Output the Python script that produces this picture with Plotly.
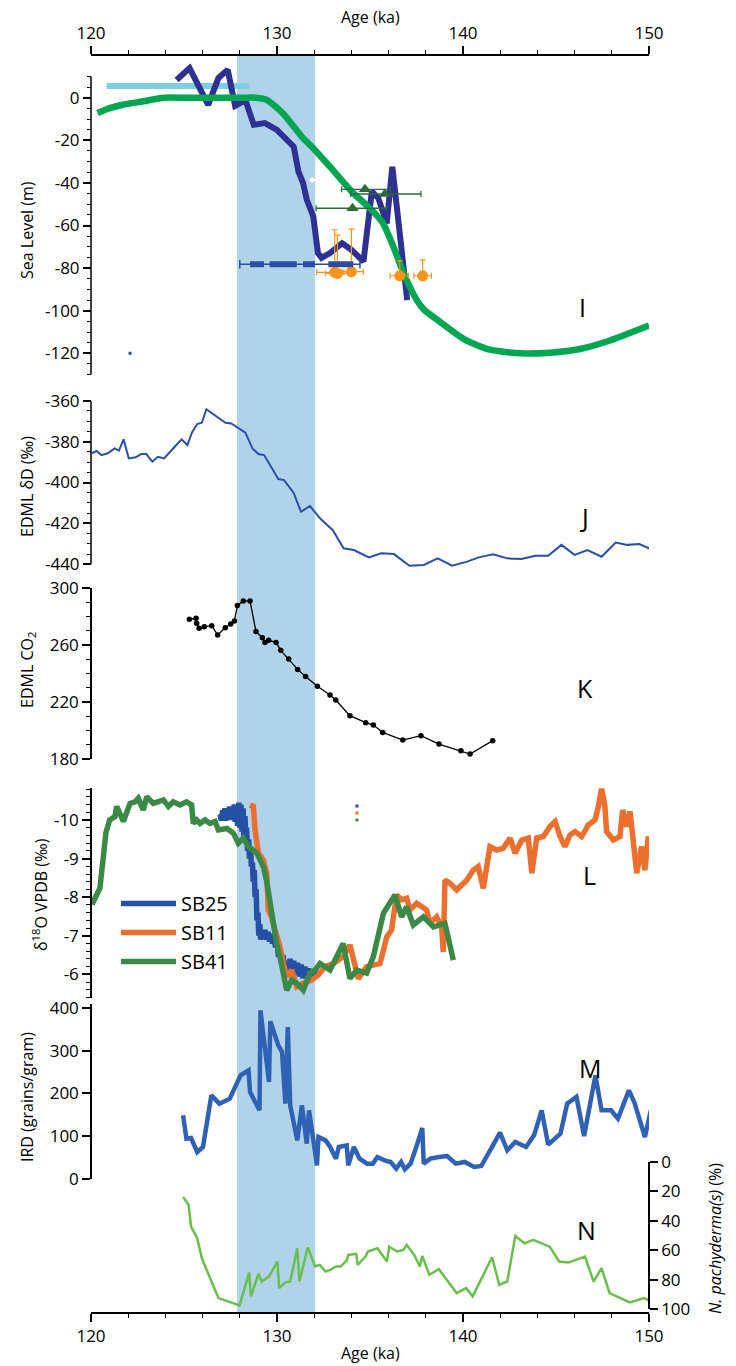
import plotly.graph_objects as go

# ---------------- Panel I : sea level (m) ----------------
sl_green_age = [120.35, 121.0, 121.7, 122.8, 123.9, 125.0, 126.0, 127.0, 128.0, 128.9, 129.45,
                130.3, 131.4, 131.95, 133.0, 134.1, 135.0, 135.7, 136.25, 136.8, 137.5, 137.9,
                138.76, 140.1, 141.45, 143.1, 144.7, 146.3, 147.9, 150.0]
sl_green_val = [-7.2, -4.9, -3.3, -1.7, 0, 0, 0, 0, 0, 0, -1.0,
                -7.2, -19, -23.7, -33.9, -44.8, -51.9, -58.9, -69.8, -82.3, -94.8, -99.5,
                -105.2, -113.6, -118.3, -120, -119.7, -118, -114, -107]

sl_blue_age = [124.6, 125.3, 126.3, 126.85, 127.35, 127.75, 128.3, 128.75, 129.35, 129.98, 130.9,
               131.15, 131.4, 131.6, 131.95, 132.2, 132.4, 132.85, 133.5, 134.0, 134.65, 135.1,
               135.45, 135.9, 136.2, 136.6, 137.0]
sl_blue_val = [8.3, 13.9, -3.4, 9.2, 13.1, -3.8, -1.1, -12.7, -11.9, -15, -23,
               -34.6, -40, -47.9, -55.7, -72.9, -75.2, -72.9, -68.3, -71.4, -76.9, -44,
               -47.2, -59, -32.4, -63.7, -95]

hs_age = [120.84, 128.5]          # highstand bar
hs_val = [5.5, 5.5]

tri_age = [134.73, 135.8, 134.06]
tri_val = [-43.0, -45.2, -51.9]
tri_lo = [133.47, 133.96, 132.1]
tri_hi = [136.1, 137.74, 135.9]

or_age = [133.1, 133.25, 134.0, 136.6, 137.83]
or_val = [-82.0, -82.5, -81.7, -83.6, -83.6]
or_up = [20, 18, 20, 7, 7.5]
or_xlo = [132.13, 132.6, 133.5, 136.08, 137.36]
or_xhi = [133.6, 134.0, 134.64, 137.06, 138.3]

dat_val = -78.2
dat_range = [128.0, 134.46]
dat_seg_lo = [128.55, 129.6, 131.4, 132.76]
dat_seg_hi = [129.3, 131.06, 132.04, 134.1]

white_pt_age = [131.9]
white_pt_val = [-38.6]
blue_dot_age = [122.1]
blue_dot_val = [-120.0]

# ---------------- Panel J : EDML dD ----------------
dd_age = [120.05, 120.3, 120.56, 120.9, 121.27, 121.5, 121.75, 122.03, 122.4, 122.7, 122.97,
          123.3, 123.6, 123.93, 124.5, 124.87, 125.18, 125.43, 125.71, 125.96, 126.2, 126.65,
          127.23, 127.54, 127.92, 128.3, 128.68, 129.0, 129.31, 129.69, 130.07, 130.38, 130.89,
          131.29, 131.77, 132.36, 132.99, 133.58, 134.13, 134.94, 135.6, 136.29, 137.12, 137.89,
          138.64, 139.41, 140.22, 140.85, 141.61, 142.38, 143.13, 143.9, 144.58, 145.29, 146.0,
          146.69, 147.45, 148.21, 148.84, 149.48, 150.06]
dd_val = [-385.7, -384.6, -386.6, -385.7, -383.3, -384.4, -378.9, -388.2, -387.7, -386.1, -386.1,
          -389.8, -387.4, -388.2, -382.5, -378.9, -381.7, -375.5, -371.4, -370.8, -364.2, -367.0,
          -370.8, -371.1, -373.5, -375.6, -383.3, -386.1, -386.6, -392.6, -398.3, -398.8, -405.0,
          -414.3, -411.5, -418.0, -423.2, -432.2, -433.0, -436.6, -434.6, -435.0, -440.7, -440.3,
          -437.1, -440.7, -438.7, -436.6, -435.1, -437.1, -437.4, -435.8, -435.8, -430.5, -435.4,
          -433.0, -436.3, -429.4, -430.5, -430.1, -432.5]

# ---------------- Panel K : EDML CO2 ----------------
co2_age = [125.29, 125.65, 125.68, 125.81, 126.09, 126.49, 126.81, 127.22, 127.51, 127.71, 127.87,
           128.19, 128.55, 128.87, 129.21, 129.35, 129.55, 129.95, 130.2, 130.63, 131.11, 131.54,
           132.17, 132.85, 133.16, 133.92, 134.77, 135.18, 135.68, 136.76, 137.74, 138.71, 139.89,
           140.38, 141.6]
co2_val = [278.2, 278.9, 275.3, 271.8, 273.0, 273.7, 267.1, 272.3, 274.9, 277.0, 287.8,
           291.1, 291.1, 269.5, 265.2, 261.9, 263.4, 261.9, 256.3, 250.2, 242.9, 237.8,
           231.0, 224.8, 221.3, 210.3, 205.4, 203.7, 198.5, 193.1, 196.2, 190.3, 185.6,
           183.3, 192.7]

# ---------------- Panel L : speleothem d18O ----------------
sb25_age = [126.95, 127.0, 127.08, 127.12, 127.2, 127.25, 127.32, 127.38, 127.45, 127.5, 127.58,
            127.62, 127.7, 127.75, 127.82, 127.88, 127.95, 128.0, 128.06, 128.12, 128.18, 128.22,
            128.28, 128.32, 128.36, 128.42, 128.48, 128.52, 128.58, 128.62, 128.68, 128.72, 128.78,
            128.82, 128.88, 128.92, 128.98, 129.02, 129.08, 129.12, 129.2, 129.28, 129.36, 129.44,
            129.52, 129.6, 129.68, 129.76, 129.84, 129.92, 130.0, 130.08, 130.16, 130.24, 130.32,
            130.4, 130.5, 130.6, 130.7, 130.8, 130.9, 131.0, 131.1, 131.2, 131.3, 131.4,
            131.5, 131.6, 131.7, 131.8, 131.9, 132.0, 132.1]
sb25_val = [-10.15, -9.98, -10.25, -10.0, -10.3, -9.98, -10.3, -10.02, -10.35, -10.0, -10.35,
            -10.05, -10.4, -9.95, -10.4, -9.85, -10.45, -9.8, -10.4, -9.7, -10.3, -9.5,
            -10.1, -9.4, -9.8, -9.2, -9.5, -9.0, -9.3, -8.8, -8.9, -8.4, -8.7,
            -8.0, -8.2, -7.4, -7.6, -7.0, -7.3, -6.9, -7.15, -6.95, -7.15, -6.9,
            -7.1, -6.85, -7.05, -6.8, -7.0, -6.7, -6.9, -6.45, -6.6, -6.3, -6.5,
            -6.15, -6.35, -6.05, -6.4, -6.1, -6.35, -6.0, -6.3, -5.95, -6.25, -5.9,
            -6.2, -5.95, -6.15, -5.9, -6.1, -5.95, -6.1]

sb11_age = [128.55, 128.73, 128.82, 129.0, 129.27, 129.45, 129.53, 129.7, 129.9, 130.16, 130.34,
            130.52, 130.79, 131.06, 131.41, 131.86, 132.22, 132.58, 133.03, 133.56, 133.92, 134.37,
            134.82, 135.54, 135.9, 136.16, 136.43, 136.7, 136.97, 137.15, 137.51, 138.04, 138.23,
            138.58, 138.85, 138.94, 139.03, 139.3, 139.66, 140.2, 140.55, 140.82, 141.09, 141.27,
            141.45, 141.81, 142.17, 142.53, 142.8, 143.16, 143.51, 143.7, 143.96, 144.32, 144.68,
            144.95, 145.22, 145.48, 145.75, 146.02, 146.38, 146.74, 147.1, 147.28, 147.45, 147.63,
            147.72, 148.08, 148.44, 148.58, 148.8, 148.98, 149.16, 149.34, 149.6, 149.78, 149.96,
            150.14]
sb11_val = [-10.39, -10.35, -9.74, -9.14, -8.96, -8.62, -7.67, -7.49, -7.15, -6.72, -6.28,
            -5.94, -6.11, -5.68, -5.77, -5.85, -5.98, -6.2, -6.28, -6.46, -6.76, -5.89,
            -6.2, -6.28, -6.97, -7.15, -8.06, -7.93, -7.97, -7.67, -7.84, -7.67, -7.32,
            -7.49, -7.23, -6.58, -8.44, -8.36, -8.19, -8.44, -8.7, -8.79, -8.23, -8.79,
            -9.31, -9.22, -9.27, -9.53, -9.14, -9.48, -9.53, -8.62, -9.53, -9.57, -9.83,
            -9.96, -9.57, -9.31, -9.61, -9.7, -9.57, -9.87, -10.0, -10.35, -10.82, -10.35,
            -9.7, -9.48, -9.57, -10.26, -9.83, -10.22, -9.48, -8.62, -9.31, -8.7, -9.57,
            -9.31]

sb41_age = [119.95, 120.12, 120.48, 120.8, 121.0, 121.29, 121.38, 121.74, 122.1, 122.37, 122.54,
            122.81, 123.0, 123.35, 123.89, 124.16, 124.42, 124.78, 125.14, 125.41, 125.5, 125.68,
            125.86, 126.13, 126.4, 126.67, 126.85, 127.3, 127.65, 127.92, 128.19, 128.46, 128.91,
            129.27, 129.45, 129.62, 129.8, 129.98, 130.16, 130.34, 130.52, 130.79, 131.06, 131.41,
            131.77, 132.04, 132.31, 132.85, 133.56, 133.92, 134.28, 134.82, 135.18, 135.72, 136.08,
            136.34, 136.7, 136.97, 137.33, 137.87, 138.41, 139.03, 139.48]
sb41_val = [-7.93, -7.88, -8.23, -9.66, -10.0, -10.09, -10.35, -9.96, -10.43, -10.47, -10.56,
            -10.26, -10.6, -10.43, -10.52, -10.35, -10.47, -10.39, -10.47, -10.39, -9.91, -10.0,
            -9.91, -10.0, -9.91, -9.96, -9.74, -9.78, -9.66, -9.4, -9.53, -9.31, -9.14,
            -8.79, -8.4, -7.84, -7.41, -6.8, -6.46, -6.03, -5.59, -5.85, -5.77, -5.59,
            -6.03, -6.11, -6.28, -6.11, -6.8, -5.89, -6.11, -6.03, -6.46, -7.58, -7.84,
            -8.06, -7.49, -7.75, -7.28, -7.49, -7.23, -7.32, -6.37]

key_age = [134.3, 134.3, 134.3]
key_val = [-10.36, -10.18, -10.0]

# ---------------- Panel M : IRD ----------------
ird_age = [124.95, 125.13, 125.38, 125.71, 126.02, 126.47, 126.9, 127.46, 128.04, 128.47, 128.55,
           129.06, 129.11, 129.57, 129.64, 130.07, 130.27, 130.45, 130.58, 130.71, 131.09, 131.34,
           131.6, 131.72, 131.97, 132.15, 132.23, 132.61, 132.86, 133.17, 133.32, 133.75, 133.83,
           134.13, 134.44, 134.84, 135.15, 135.4, 135.78, 136.11, 136.41, 136.67, 136.87, 137.18,
           137.43, 137.81, 137.89, 138.24, 138.7, 139.15, 139.61, 140.09, 140.6, 140.98, 141.61,
           141.99, 142.38, 142.81, 143.39, 143.82, 144.23, 144.58, 145.24, 145.6, 146.1, 146.51,
           147.12, 147.45, 147.96, 148.33, 148.92, 149.22, 149.78, 150.1]
ird_val = [149, 94.3, 95.9, 63.2, 74.9, 195.7, 176.2, 187.9, 242.5, 254.2, 203.5,
           160.6, 394.5, 226.9, 368.8, 312.6, 297, 176.2, 355.5, 172.3, 90.4, 172.3,
           82.7, 160.6, 86.5, 32, 98.2, 90.4, 74.9, 47.6, 74.9, 78.7, 32,
           74.9, 47.6, 35.9, 35.9, 51.5, 43.7, 39.8, 24.2, 39.8, 22.6, 35.9,
           67.1, 119.3, 35.9, 47.6, 51.5, 53.8, 35.9, 39.8, 28.1, 30.4, 78.7,
           108.4, 67.1, 86.5, 74.9, 102.1, 160.6, 80.3, 106, 176.2, 191.8, 100.6,
           242.5, 160.6, 160.6, 141.1, 207.4, 178.5, 98.2, 160.6]

# ---------------- Panel N : N. pachyderma(s) % ----------------
np_age = [124.95, 125.25, 125.38, 125.71, 125.96, 126.85, 127.99, 128.24, 128.5, 128.6, 129.0,
          129.18, 129.57, 130.02, 130.12, 130.45, 130.71, 131.09, 131.21, 131.65, 132.05, 132.3,
          132.61, 132.86, 133.17, 133.42, 133.75, 133.83, 134.26, 134.33, 134.76, 134.89, 135.4,
          135.91, 136.03, 136.46, 136.8, 136.97, 137.38, 137.68, 137.81, 138.19, 138.7, 139.66,
          140.17, 140.52, 141.56, 141.95, 142.38, 142.81, 143.31, 143.77, 144.66, 145.17, 145.67,
          146.56, 147.02, 147.45, 147.88, 148.97, 149.73, 150.11]
np_val = [23.7, 29.3, 44, 51.9, 65.5, 92.6, 97.5, 86.9, 75.2, 91.4, 76.1,
          81.3, 77.9, 67.7, 85.8, 81.9, 81.3, 58.7, 81.3, 58, 71.1, 70,
          74.5, 73.4, 71.1, 71.1, 67, 63.2, 62.5, 70, 64.3, 60.9, 58.7,
          67.7, 57.6, 60.9, 59.8, 56.4, 63.2, 71.1, 63.9, 76.7, 72.9, 89.2,
          85.8, 91.4, 64.8, 83.5, 81.3, 50.3, 55.3, 53, 57.6, 67.7, 68.4,
          64.3, 81.3, 72.2, 89.2, 95.5, 92.6, 94.8]

band_age = [127.85, 132.05]

# ---------------- colours ----------------
C_NAVY = '#2e3192'
C_SLGREEN = '#00a651'
C_CYAN = '#7fcfe2'
C_TRI = '#2d6a3e'
C_ORANGE = '#f7941d'
C_DATBLUE = '#2a4fa2'
C_DD = '#2a4fa8'
C_SB25 = '#2450a6'
C_SB11 = '#ec6f2d'
C_SB41 = '#3a8a45'
C_IRD = '#2f62b4'
C_NP = '#6abf4b'
C_BAND = '#b0d3ea'

fig = go.Figure()

# Panel I
fig.add_trace(go.Scatter(x=hs_age, y=hs_val, mode='lines', line=dict(color=C_CYAN, width=6),
                         xaxis='x', yaxis='y', showlegend=False))
fig.add_trace(go.Scatter(x=sl_blue_age, y=sl_blue_val, mode='lines', line=dict(color=C_NAVY, width=6),
                         xaxis='x', yaxis='y', showlegend=False))
fig.add_trace(go.Scatter(x=sl_green_age, y=sl_green_val, mode='lines',
                         line=dict(color=C_SLGREEN, width=6.5, shape='spline', smoothing=0.6),
                         xaxis='x', yaxis='y', showlegend=False))
fig.add_trace(go.Scatter(x=tri_age, y=tri_val, mode='markers',
                         marker=dict(symbol='triangle-up', size=11, color=C_TRI),
                         error_x=dict(type='data', symmetric=False,
                                      array=[h - a for h, a in zip(tri_hi, tri_age)],
                                      arrayminus=[a - l for a, l in zip(tri_age, tri_lo)],
                                      color=C_TRI, thickness=1.3, width=3),
                         xaxis='x', yaxis='y', showlegend=False))
fig.add_trace(go.Scatter(x=or_age, y=or_val, mode='markers',
                         marker=dict(symbol='circle', size=11, color=C_ORANGE),
                         error_y=dict(type='data', symmetric=False, array=or_up,
                                      arrayminus=[0] * len(or_up), color=C_ORANGE,
                                      thickness=1.2, width=3),
                         error_x=dict(type='data', symmetric=False,
                                      array=[h - a for h, a in zip(or_xhi, or_age)],
                                      arrayminus=[a - l for a, l in zip(or_age, or_xlo)],
                                      color=C_ORANGE, thickness=1.2, width=3),
                         xaxis='x', yaxis='y', showlegend=False))
fig.add_trace(go.Scatter(x=dat_range, y=[dat_val, dat_val], mode='lines+markers',
                         line=dict(color=C_DATBLUE, width=1.5),
                         marker=dict(symbol='line-ns', size=6, line=dict(color=C_DATBLUE, width=1.5)),
                         xaxis='x', yaxis='y', showlegend=False))
seg_x, seg_y = [], []
for lo, hi in zip(dat_seg_lo, dat_seg_hi):
    seg_x += [lo, hi, None]
    seg_y += [dat_val, dat_val, None]
fig.add_trace(go.Scatter(x=seg_x, y=seg_y, mode='lines', line=dict(color=C_DATBLUE, width=6),
                         xaxis='x', yaxis='y', showlegend=False))
fig.add_trace(go.Scatter(x=white_pt_age, y=white_pt_val, mode='markers',
                         marker=dict(symbol='diamond', size=5, color='white'),
                         xaxis='x', yaxis='y', showlegend=False))
fig.add_trace(go.Scatter(x=blue_dot_age, y=blue_dot_val, mode='markers',
                         marker=dict(symbol='square', size=3, color=C_DATBLUE),
                         xaxis='x', yaxis='y', showlegend=False))

# Panel J
fig.add_trace(go.Scatter(x=dd_age, y=dd_val, mode='lines', line=dict(color=C_DD, width=2),
                         xaxis='x', yaxis='y2', showlegend=False))
# Panel K
fig.add_trace(go.Scatter(x=co2_age, y=co2_val, mode='lines+markers', line=dict(color='black', width=1.3),
                         marker=dict(size=5.5, color='black'),
                         xaxis='x', yaxis='y3', showlegend=False))
# Panel L
fig.add_trace(go.Scatter(x=sb25_age, y=sb25_val, mode='lines', name='SB25',
                         line=dict(color=C_SB25, width=5.5), xaxis='x', yaxis='y4'))
fig.add_trace(go.Scatter(x=sb11_age, y=sb11_val, mode='lines', name='SB11',
                         line=dict(color=C_SB11, width=5.5), xaxis='x', yaxis='y4'))
fig.add_trace(go.Scatter(x=sb41_age, y=sb41_val, mode='lines', name='SB41',
                         line=dict(color=C_SB41, width=5.5), xaxis='x', yaxis='y4'))
fig.add_trace(go.Scatter(x=key_age, y=key_val, mode='markers',
                         marker=dict(symbol='square', size=3, color=[C_SB25, C_SB11, C_SB41]),
                         xaxis='x', yaxis='y4', showlegend=False))
# Panel M
fig.add_trace(go.Scatter(x=ird_age, y=ird_val, mode='lines', line=dict(color=C_IRD, width=4.5),
                         xaxis='x', yaxis='y5', showlegend=False))
# Panel N
fig.add_trace(go.Scatter(x=np_age, y=np_val, mode='lines', line=dict(color=C_NP, width=2.5),
                         xaxis='x', yaxis='y6', showlegend=False))
# carrier for the top age axis
fig.add_trace(go.Scatter(x=[120, 150], y=[None, None], mode='lines', xaxis='x2', yaxis='y',
                         showlegend=False, hoverinfo='skip'))

fig.add_shape(type='rect', xref='x', yref='paper', x0=band_age[0], x1=band_age[1], y0=0, y1=1,
              fillcolor=C_BAND, line=dict(width=0), layer='below')

TOP, BOT, H = 55, 1313, 1258


def py(p):
    return (BOT - p) / H


def px(p):
    return (p - 91) / 558


base = dict(showline=True, linecolor='black', linewidth=1.5, ticks='outside', tickcolor='black',
            tickwidth=1.5, ticklen=8, showgrid=False, zeroline=False,
            tickfont=dict(size=17, color='black'))


def minor(d, t0=0):
    return dict(tickmode='linear', tick0=t0, dtick=d, ticks='outside', ticklen=4.5,
                tickcolor='black', tickwidth=1.3)


def minor_arr(vals):
    return dict(tickmode='array', tickvals=vals, ticks='outside', ticklen=4.5,
                tickcolor='black', tickwidth=1.3)


def labs(vals):
    return [('-' + str(abs(v))) if v < 0 else str(v) for v in vals]


# Sea-level axis: drawn 10..-130, plotted to 16 so the curve can overshoot the axis top
sl_line = [-130, 10]
sl_plot_top = 16
sl_px_per_m = (353.3 - 97.7) / 120.0
sl_top_px = 97.7 - sl_plot_top * sl_px_per_m
fig.add_shape(type='line', xref='paper', yref='y', x0=0, x1=0, y0=sl_line[0], y1=sl_line[1],
              line=dict(color='black', width=1.5))

# dD axis: drawn -440..-360, plotted to -442 so the curve is not cut
dd_line = [-440, -360]
dd_plot_bot = -442
dd_px_per = (564.3 - 400.7) / 80.0
dd_bot_px = 564.3 + (dd_line[0] - dd_plot_bot) * dd_px_per
fig.add_shape(type='line', xref='paper', yref='y2', x0=0, x1=0, y0=dd_line[0], y1=dd_line[1],
              line=dict(color='black', width=1.5))

xt = [120, 130, 140, 150]
fig.update_layout(
    width=736, height=1366,
    margin=dict(l=91, r=87, t=55, b=53),
    plot_bgcolor='rgba(0,0,0,0)', paper_bgcolor='white',
    font=dict(family='Open Sans', size=17, color='black'),
    xaxis=dict(base, range=[120, 150], anchor='free', position=0, domain=[0, 1],
               tickmode='array', tickvals=xt, ticktext=labs(xt), minor=minor(2, 120)),
    xaxis2=dict(base, range=[120, 150], anchor='free', position=1, overlaying='x', side='top',
                tickmode='array', tickvals=xt, ticktext=labs(xt), minor=minor(2, 120)),
    yaxis=dict(base, showline=False, range=[-130, sl_plot_top], domain=[py(374.6), py(sl_top_px)],
               anchor='free', position=0,
               tickmode='array', tickvals=list(range(-120, 1, 20)), ticktext=labs(range(-120, 1, 20)),
               minor=minor_arr(list(range(-130, 11, 5)))),
    yaxis2=dict(base, showline=False, range=[dd_plot_bot, -360], domain=[py(dd_bot_px), py(400.7)],
                anchor='free', position=0,
                tickmode='array', tickvals=list(range(-440, -359, 20)),
                ticktext=labs(range(-440, -359, 20)), minor=minor_arr(list(range(-440, -359, 5)))),
    yaxis3=dict(base, range=[180, 300], domain=[py(758.7), py(588.3)], anchor='free', position=0,
                tickmode='array', tickvals=[180, 220, 260, 300], ticktext=labs([180, 220, 260, 300]),
                minor=minor(10)),
    yaxis4=dict(base, range=[-5.38, -10.82], domain=[py(998.3), py(788.3)], anchor='free', position=0,
                tickmode='array', tickvals=[-10, -9, -8, -7, -6], ticktext=labs([-10, -9, -8, -7, -6]),
                minor=minor(0.2)),
    yaxis5=dict(base, range=[0, 410], domain=[py(1179), py(1003.7)], anchor='free', position=0,
                tickmode='array', tickvals=[0, 100, 200, 300, 400], ticktext=labs([0, 100, 200, 300, 400])),
    yaxis6=dict(base, range=[100, 0], domain=[py(1309), py(1162)], anchor='free', position=1,
                side='right', tickmode='array', tickvals=[0, 20, 40, 60, 80, 100],
                ticktext=labs([0, 20, 40, 60, 80, 100])),
    showlegend=True,
    legend=dict(x=px(116), y=py(884), xanchor='left', yanchor='top', bgcolor='rgba(0,0,0,0)',
                font=dict(size=20, color='black'), itemwidth=55, tracegroupgap=0),
)

ann = []


def vtitle(text, xp, yp, size=16):
    ann.append(dict(text=text, xref='paper', yref='paper', x=px(xp), y=py(yp), showarrow=False,
                    textangle=-90, xanchor='center', yanchor='middle', font=dict(size=size, color='black')))


vtitle('Sea Level (m)', 27, 230)
vtitle('EDML δD (‰)', 27, 487)
vtitle('EDML CO<sub>2</sub>', 27, 670)
vtitle('δ<sup>18</sup>O VPDB (‰)', 40, 895)
vtitle('IRD (grains/gram)', 27, 1097)
vtitle('<i>N. pachyderma(s)</i> (%)', 715, 1238)

for letter, xp, yp in [('I', 582, 307), ('J', 584, 517), ('K', 585, 688), ('L', 589, 875),
                       ('M', 590, 1068), ('N', 586, 1230)]:
    ann.append(dict(text=letter, xref='paper', yref='paper', x=px(xp), y=py(yp), showarrow=False,
                    xanchor='center', yanchor='middle', font=dict(size=25, color='black')))

for yp in (17, 1353):
    ann.append(dict(text='Age (ka)', xref='paper', yref='paper', x=px(370), y=py(yp), showarrow=False,
                    xanchor='center', yanchor='middle', font=dict(size=16, color='black')))

fig.update_layout(annotations=ann)
fig.write_html('out.html')
